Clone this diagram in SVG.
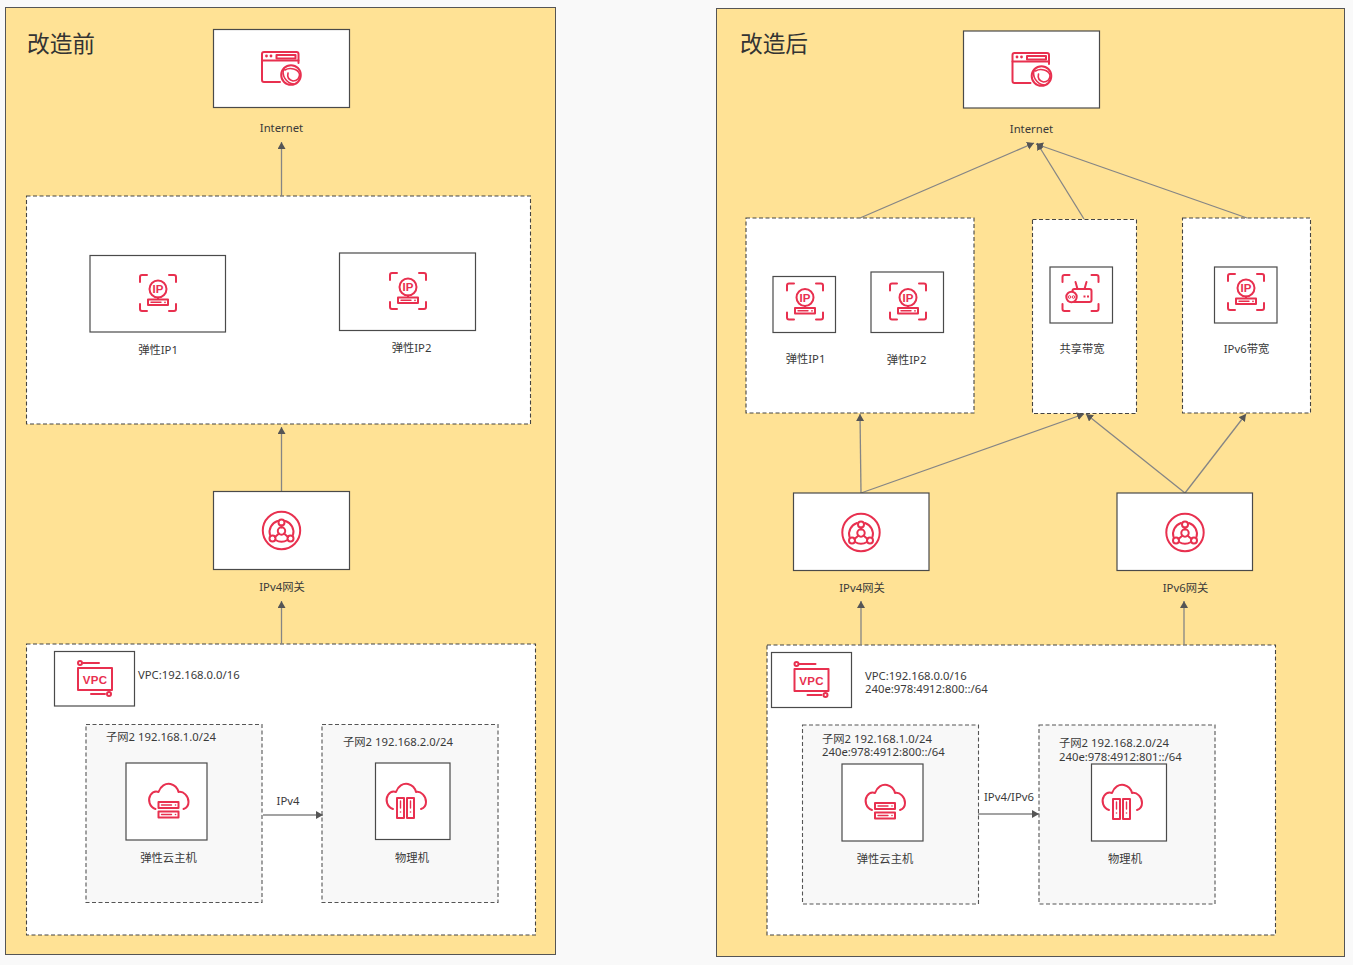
<svg xmlns="http://www.w3.org/2000/svg" width="1353" height="965" viewBox="0 0 1353 965">
<style>
text{font-family:"Noto Sans","Noto Sans CJK SC",sans-serif;font-size:11.3px;fill:#3a3a3a}
.t{font-size:22.700px;fill:#333}
.m{text-anchor:middle}
.panel{fill:#ffe295;stroke:#555;stroke-width:1}
.box{fill:#fff;stroke:#4a4a4a;stroke-width:1.2}
.dash{fill:#fff;stroke:#444;stroke-width:1.1;stroke-dasharray:4 2.500}
.sub{fill:#f8f8f8;stroke:#555;stroke-width:1.1;stroke-dasharray:4 2.500}
.ic{fill:none;stroke:#e8304f;stroke-width:2;stroke-linecap:round;stroke-linejoin:round}
.icf{fill:#e8304f;stroke:none}
.cn{fill:none;stroke:#858585;stroke-width:1.3}
#conn-left path,#conn-right path{marker-end:url(#ah)}
</style>
<defs>
<marker id="ah" markerUnits="userSpaceOnUse" markerWidth="9" markerHeight="9" refX="7" refY="4" orient="auto"><path d="M0 0L7 4L0 8Z" fill="#555"/></marker>
<g id="i-net" class="ic">
<path d="M17.500 -5V-14a2 2 0 0 0 -2 -2H-17a2 2 0 0 0 -2 2V12a2 2 0 0 0 2 2H-1"/>
<path d="M-19 -7.500H17.500"/>
<rect x="-4.500" y="-13" width="19" height="3.500"/>
<circle class="icf" cx="-14.500" cy="-12" r="1.400"/><circle class="icf" cx="-10" cy="-12" r="1.400"/>
<circle cx="10" cy="7" r="9.800"/>
<path d="M3 0.500C0 7 5 15 13 16M4 2C9 -1 17 1 18.500 6C19 10 16 13 12 13C8 12 6 9 7 5" stroke-width="1.600"/>
</g>
<path id="i-frame" class="ic" d="M-11 -18H-16a2 2 0 0 0 -2 2V-11M11 -18H16a2 2 0 0 1 2 2V-11M-18 11V16a2 2 0 0 0 2 2H-11M18 11V16a2 2 0 0 1 -2 2H11"/>
<g id="i-ip">
<use href="#i-frame"/>
<g class="ic">
<circle cx="0" cy="-4" r="8.500"/>
<path d="M0 4.500V6"/>
<rect x="-10" y="6.500" width="20" height="5.500"/>
<path d="M-7 9.300H3" stroke-width="1.400"/>
</g>
<circle class="icf" cx="7" cy="9.300" r="0.900"/>
<text x="0" y="0" class="m" style="font-family:'Liberation Sans',sans-serif;font-size:11.500px;fill:#e8304f;font-weight:700">IP</text>
</g>
<g id="i-band">
<use href="#i-frame"/>
<g class="ic">
<rect x="-8" y="-4" width="19" height="13" rx="2"/>
<path d="M-5 -11L-3 -4M6 -11L4 -4"/>
<circle cx="-9" cy="4" r="5.200" fill="#fff"/>
<path d="M3 3.500H9" stroke-dasharray="2 1.500" stroke-linecap="butt"/>
</g>
<circle cx="-11" cy="4" r="1.300" fill="none" stroke="#e8304f"/><circle cx="-7" cy="4" r="1.300" fill="none" stroke="#e8304f"/>
</g>
<g id="i-gw" class="ic">
<circle r="18.700"/>
<circle cx="0" cy="0.500" r="3.700"/>
<circle cx="0" cy="-8" r="3"/>
<circle cx="-9" cy="8" r="3"/>
<circle cx="9" cy="8" r="3"/>
<path d="M0 -5V-3M-2.500 3L-6.500 6.500M2.500 3L6.500 6.500"/>
<path d="M-4 -9.500A11.500 11.500 0 0 0 -11.500 4.500M4 -9.500A11.500 11.500 0 0 1 11.500 4.500M-6 9.500A11.500 11.500 0 0 0 6 9.500"/>
</g>
<g id="i-vpc">
<g class="ic">
<path d="M-17 -11H17V11H-17Z"/>
<circle cx="-15" cy="-16" r="2"/>
<path d="M-12 -16H4M-4 15H10"/>
<circle cx="14" cy="15" r="2"/>
</g>
<text x="0" y="4.500" class="m" style="font-family:'Liberation Sans',sans-serif;font-size:11.500px;letter-spacing:0.300px;fill:#e8304f;font-weight:700">VPC</text>
</g>
<path id="i-cloud" class="ic" d="M-13 7C-19 5 -21 -2 -18 -7C-16 -10 -13 -11 -10 -10C-8 -16 -3 -19 2 -18C6 -17 9 -14 10 -10C15 -11 20 -6 20 0C20 3 18 6 15 7"/>
<g id="i-vm">
<use href="#i-cloud"/>
<g class="ic">
<rect x="-10" y="0" width="20" height="6"/>
<rect x="-10" y="9.500" width="20" height="6"/>
<path d="M-7 3H3M-7 12.500H3" stroke-width="1.400"/>
</g>
<circle class="icf" cx="7" cy="3" r="0.800"/><circle class="icf" cx="7" cy="12.500" r="0.800"/>
</g>
<g id="i-phy">
<use href="#i-cloud"/>
<g class="ic">
<rect x="-9" y="-4" width="7" height="20"/>
<rect x="1" y="-4" width="7" height="20"/>
<path d="M-5.500 -1V6M4.500 -1V6" stroke-width="1.400"/>
</g>
<circle class="icf" cx="-5.500" cy="10" r="0.800"/><circle class="icf" cx="4.500" cy="10" r="0.800"/>
</g>
</defs>

<rect width="1353" height="965" fill="#f9f9f9"/>

<!-- Before -->
<g id="panel-before">
<rect class="panel" x="5.500" y="7.500" width="550" height="947"/>
<text class="t" x="27" y="52">改造前</text>
</g>
<g id="eip-zone-a"><rect class="dash" x="26.500" y="196" width="504" height="228"/></g>
<g id="vpc-zone-a">
<rect class="dash" x="26.500" y="644" width="509" height="291"/>
<text x="138" y="679">VPC:192.168.0.0/16</text>
</g>
<g id="subnet-a1">
<rect class="sub" x="86" y="724.500" width="176" height="178"/>
<text x="106" y="741">子网2 192.168.1.0/24</text>
</g>
<g id="subnet-a2">
<rect class="sub" x="322" y="724.500" width="176" height="178"/>
<text x="343" y="746">子网2 192.168.2.0/24</text>
</g>
<g id="conn-left">
<path class="cn" d="M281.500 196V142"/>
<path class="cn" d="M281.500 491V427"/>
<path class="cn" d="M281.500 644V601"/>
<path class="cn" d="M263 815H323"/>
</g>
<text x="288" y="805" class="m">IPv4</text>
<g id="internet-a"><rect class="box" x="213.500" y="29.500" width="136" height="78"/><use href="#i-net" x="281" y="68"/><text x="281.500" y="132" class="m">Internet</text></g>
<g id="eip1-a"><rect class="box" x="90" y="255.500" width="135.500" height="76.500"/><use href="#i-ip" x="158" y="293"/><text x="158" y="354" class="m">弹性IP1</text></g>
<g id="eip2-a"><rect class="box" x="339.500" y="253" width="136" height="77.500"/><use href="#i-ip" x="408" y="291"/><text x="411.500" y="352" class="m">弹性IP2</text></g>
<g id="gw-a"><rect class="box" x="213.500" y="491.500" width="136" height="78"/><use href="#i-gw" x="281.500" y="530.500"/><text x="282" y="591" class="m">IPv4网关</text></g>
<g id="vpc-a"><rect class="box" x="54.500" y="651.500" width="80" height="54.500"/><use href="#i-vpc" x="95" y="679"/></g>
<g id="vm-a"><rect class="box" x="126" y="763" width="81" height="77"/><use href="#i-vm" x="168.500" y="802"/><text x="168.500" y="862" class="m">弹性云主机</text></g>
<g id="phy-a"><rect class="box" x="375.500" y="763" width="74.500" height="76.500"/><use href="#i-phy" x="406" y="802"/><text x="412" y="862" class="m">物理机</text></g>

<!-- After -->
<g id="panel-after">
<rect class="panel" x="716.500" y="8.500" width="628" height="948"/>
<text class="t" x="740" y="52">改造后</text>
</g>
<g id="eip-zone-b"><rect class="dash" x="746" y="218" width="228" height="195"/></g>
<g id="share-zone-b"><rect class="dash" x="1032.500" y="219.500" width="104" height="194"/></g>
<g id="v6-zone-b"><rect class="dash" x="1182.500" y="218" width="128" height="195"/></g>
<g id="vpc-zone-b">
<rect class="dash" x="767" y="645" width="508.500" height="290"/>
<text x="865" y="680">VPC:192.168.0.0/16</text>
<text x="865" y="693">240e:978:4912:800::/64</text>
</g>
<g id="subnet-b1">
<rect class="sub" x="802.500" y="725" width="176" height="179"/>
<text x="822" y="743">子网2 192.168.1.0/24</text>
<text x="822" y="756">240e:978:4912:800::/64</text>
</g>
<g id="subnet-b2">
<rect class="sub" x="1039" y="725" width="176" height="179"/>
<text x="1059" y="747">子网2 192.168.2.0/24</text>
<text x="1059" y="761">240e:978:4912:801::/64</text>
</g>
<g id="conn-right">
<path class="cn" d="M860 218L1034 143"/>
<path class="cn" d="M1084 219L1037 143"/>
<path class="cn" d="M1247 218L1036 144"/>
<path class="cn" d="M861 493L860 414"/>
<path class="cn" d="M861 493L1084 414"/>
<path class="cn" d="M1185 493L1086 414"/>
<path class="cn" d="M1185 493L1246 414"/>
<path class="cn" d="M861 645V601"/>
<path class="cn" d="M1184 645V601"/>
<path class="cn" d="M978 814H1039"/>
</g>
<text x="1009" y="801" class="m">IPv4/IPv6</text>
<g id="internet-b"><rect class="box" x="963.500" y="31" width="136" height="77"/><use href="#i-net" x="1031.500" y="69"/><text x="1031.500" y="133" class="m">Internet</text></g>
<g id="eip1-b"><rect class="box" x="773" y="276.500" width="62.500" height="56"/><use href="#i-ip" x="805" y="301.500"/><text x="805.500" y="363" class="m">弹性IP1</text></g>
<g id="eip2-b"><rect class="box" x="871" y="272" width="72.500" height="60.500"/><use href="#i-ip" x="908" y="301.500"/><text x="906.500" y="364" class="m">弹性IP2</text></g>
<g id="share-b"><rect class="box" x="1050" y="267" width="62.500" height="56"/><use href="#i-band" x="1080.500" y="293"/><text x="1082" y="353" class="m">共享带宽</text></g>
<g id="v6-b"><rect class="box" x="1214.500" y="267" width="62.500" height="56"/><use href="#i-ip" x="1246" y="292"/><text x="1246.500" y="353" class="m">IPv6带宽</text></g>
<g id="gw4-b"><rect class="box" x="793.500" y="493" width="135.500" height="77.500"/><use href="#i-gw" x="861" y="532.500"/><text x="862" y="592" class="m">IPv4网关</text></g>
<g id="gw6-b"><rect class="box" x="1117" y="493" width="135.500" height="77.500"/><use href="#i-gw" x="1185" y="532.500"/><text x="1185.500" y="592" class="m">IPv6网关</text></g>
<g id="vpc-b"><rect class="box" x="771.500" y="652.500" width="80" height="55"/><use href="#i-vpc" x="811.500" y="680"/></g>
<g id="vm-b"><rect class="box" x="842" y="764" width="81" height="77"/><use href="#i-vm" x="885" y="803"/><text x="885" y="863" class="m">弹性云主机</text></g>
<g id="phy-b"><rect class="box" x="1091.500" y="764" width="75" height="77"/><use href="#i-phy" x="1122" y="803"/><text x="1125" y="863" class="m">物理机</text></g>
</svg>
